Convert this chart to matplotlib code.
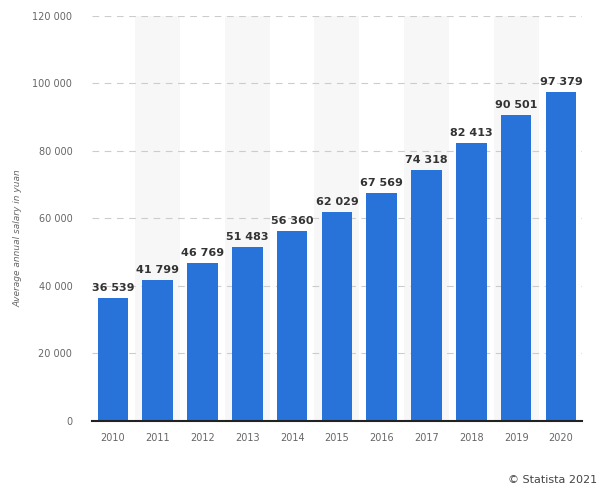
import matplotlib
matplotlib.use("Agg")
import matplotlib.pyplot as plt
from matplotlib.ticker import FuncFormatter

years = ["2010", "2011", "2012", "2013", "2014", "2015", "2016", "2017", "2018", "2019", "2020"]
salaries = [36539, 41799, 46769, 51483, 56360, 62029, 67569, 74318, 82413, 90501, 97379]
y_ticks = [0, 20000, 40000, 60000, 80000, 100000, 120000]
y_label = "Average annual salary in yuan"
credit = "© Statista 2021"

def fmt(v):
    return f"{int(v):,}".replace(",", " ")

fig = plt.figure(figsize=(6.0, 4.97), dpi=100)
ax = fig.add_axes([0.153, 0.153, 0.817, 0.815])

x = list(range(len(years)))
for i in x:
    if i % 2 == 1:
        ax.axvspan(i - 0.5, i + 0.5, color="#f7f7f7", zorder=0, lw=0)

ax.bar(x, salaries, width=0.68, color="#2873da", zorder=3)
for i, v in zip(x, salaries):
    ax.text(i, v + 1500, fmt(v), ha="center", va="bottom", fontsize=8,
            fontweight="bold", color="#333333", zorder=4)

ax.set_xlim(-0.47, len(years) - 0.53)
ax.set_ylim(0, 120000)
ax.set_yticks(y_ticks)
ax.yaxis.set_major_formatter(FuncFormatter(lambda v, p: fmt(v)))
ax.set_xticks(x)
ax.set_xticklabels(years)
ax.tick_params(axis="both", length=0, labelsize=7, colors="#666666")
ax.tick_params(axis="x", pad=9)
ax.tick_params(axis="y", pad=14)
ax.grid(axis="y", linestyle=(0, (6, 5)), color="#cccccc", linewidth=0.8, zorder=1)
for s in ["top", "right", "left"]:
    ax.spines[s].set_visible(False)
ax.spines["bottom"].set_color("#222222")
ax.spines["bottom"].set_linewidth(1.5)
ax.spines["bottom"].set_zorder(5)

fig.text(0.03, 0.52, y_label, rotation=90, ha="center", va="center",
         fontsize=6.5, color="#666666", style="italic")
fig.text(0.995, 0.034, credit, ha="right", va="center", fontsize=8, color="#444444")

fig.savefig("out.png", dpi=100)
